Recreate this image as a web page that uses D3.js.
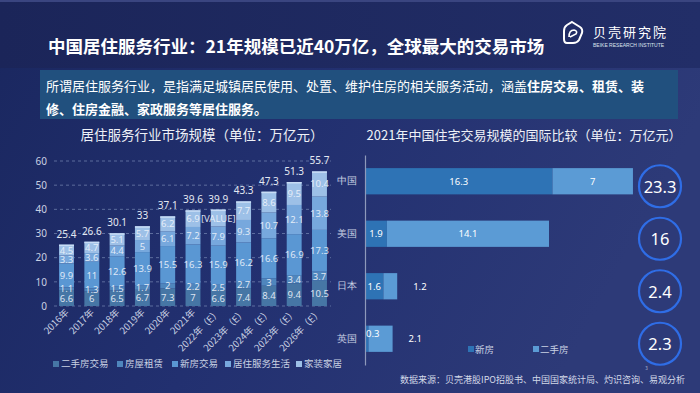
<!DOCTYPE html>
<html><head><meta charset="utf-8">
<script src="https://cdn.jsdelivr.net/npm/d3@7/dist/d3.min.js"></script>
<style>
html,body{margin:0;padding:0;background:#1b2660;}
svg{display:block;font-family:"Noto Sans CJK SC","Noto Sans",sans-serif;}
</style></head><body>
<svg id="c" width="700" height="393"></svg>
<script>
// ---------- DATA ----------
const years = ["2016年","2017年","2018年","2019年","2020年","2021年","2022年（E）","2023年（E）","2024年（E）","2025年（E）","2026年（E）"];
const seriesNames = ["二手房交易","房屋租赁","新房交易","居住服务生活","家装家居"];
const ershou   = [6.6, 6, 6.5, 6.7, 7.3, 7, 6.6, 7.4, 8.4, 9.4, 10.5];
const zulin    = [1.1, 1.3, 1.5, 1.7, 2, 2.2, 2.5, 2.7, 3, 3.4, 3.7];
const xinfang  = [9.9, 11, 12.6, 13.9, 15.5, 16.3, 15.9, 16.2, 16.6, 16.9, 17.3];
const shenghuo = [3.3, 3.6, 4.4, 5, 6.1, 7.2, 7.9, 9.3, 10.7, 12.1, 13.8];
const jiazhuang= [4.5, 4.7, 5.1, 5.7, 6.2, 6.9, 7.0, 7.7, 8.6, 9.5, 10.4];
const totals   = [25.4, 26.6, 30.1, 33, 37.1, 39.6, 39.9, 43.3, 47.3, 51.3, 55.7];
const placeholderLabels = [{year:"2022年（E）", series:"家装家居", text:"[VALUE]"}];
const yTicks = [0,10,20,30,40,50,60];

const countries = ["中国","美国","日本","英国"];
const cSeries = ["新房","二手房"];
const newHome = [16.3, 1.9, 1.6, 0.3];
const usedHome = [7, 14.1, 1.2, 2.1];
const countryTotals = [23.3, 16, 2.4, 2.3];

const title = "中国居住服务行业：21年规模已近40万亿，全球最大的交易市场";
const leftTitle = "居住服务行业市场规模（单位：万亿元）";
const rightTitle = "2021年中国住宅交易规模的国际比较（单位：万亿元）";
const source = "数据来源：贝壳港股IPO招股书、中国国家统计局、灼识咨询、易观分析";

// ---------- STYLE ----------
const stackColors = ["#4676a5","#4f86bd","#5a97d3","#77a8dd","#9dc0e7"];
const cColors = ["#2e73b5","#5b9bd5"];
const axisText = "#c9d1e3";

const svg = d3.select("#c");
const defs = svg.append("defs");
const bg = defs.append("linearGradient").attr("id","bg").attr("x1","0").attr("y1","0").attr("x2","1").attr("y2","0.3");
bg.append("stop").attr("offset","0").attr("stop-color","#1a275f");
bg.append("stop").attr("offset","0.5").attr("stop-color","#223070");
bg.append("stop").attr("offset","1").attr("stop-color","#2d3a78");
svg.append("rect").attr("width",700).attr("height",393).attr("fill","url(#bg)");
const hg = defs.append("linearGradient").attr("id","hg").attr("x1","0").attr("y1","0").attr("x2","1").attr("y2","0");
hg.append("stop").attr("offset","0").attr("stop-color","#1b2559");
hg.append("stop").attr("offset","1").attr("stop-color","#222e68");
svg.append("rect").attr("width",700).attr("height",68).attr("fill","url(#hg)");
svg.append("rect").attr("width",700).attr("height",2).attr("fill","#3a4580");

// header title
svg.append("text").attr("x",48).attr("y",45).attr("dominant-baseline","central")
  .attr("fill","#ffffff").attr("font-size",17.5).attr("font-weight","bold").text(title);

// logo
const logo = svg.append("g").attr("transform","translate(563,21)");
logo.append("path").attr("d","M9,1 L17,6 Q20,8 19,12 L16,19 Q14,22 10,22 L4,22 Q1,22 1,18 L1,10 Q1,6 4,4 Z")
  .attr("fill","none").attr("stroke","#fff").attr("stroke-width",2);
logo.append("path").attr("d","M6,16 Q6,9 11,9 Q15,10 13,13 L7,16")
  .attr("fill","none").attr("stroke","#fff").attr("stroke-width",1.6);
svg.append("text").attr("x",593).attr("y",31).attr("dominant-baseline","central")
  .attr("fill","#fff").attr("font-size",13).attr("letter-spacing",2).text("贝壳研究院");
svg.append("text").attr("x",593).attr("y",44.5).attr("dominant-baseline","central")
  .attr("fill","#dfe4ee").attr("font-size",5).attr("font-family","Liberation Sans, Arial").text("BEIKE RESEARCH INSTITUTE");

// description box
svg.append("rect").attr("x",40).attr("y",70).attr("width",638).attr("height",49).attr("fill","#21507e");
const d1 = svg.append("text").attr("x",46).attr("y",85).attr("dominant-baseline","central").attr("fill","#fff").attr("font-size",13);
d1.append("tspan").text("所谓居住服务行业，是指满足城镇居民使用、处置、维护住房的相关服务活动，涵盖");
d1.append("tspan").attr("font-weight","bold").text("住房交易、租赁、装");
svg.append("text").attr("x",46).attr("y",108).attr("dominant-baseline","central").attr("fill","#fff")
  .attr("font-size",13).attr("font-weight","bold").text("修、住房金融、家政服务等居住服务。");

// ---------- LEFT CHART ----------
svg.append("text").attr("x",202).attr("y",134).attr("text-anchor","middle").attr("dominant-baseline","central")
  .attr("fill","#eef1f7").attr("font-size",13.5).text(leftTitle);

const x = d3.scaleBand().domain(years).range([54,332]).paddingInner(0.41).paddingOuter(0.2);
const y = d3.scaleLinear().domain([0,60]).range([306,161]);

const gridG = svg.append("g");
gridG.selectAll("line").data(yTicks).join("line")
  .attr("x1",54).attr("x2",331).attr("y1",d=>y(d)).attr("y2",d=>y(d))
  .attr("stroke","#8fa3c8").attr("stroke-opacity",0.55).attr("stroke-dasharray","3,3").attr("stroke-width",1);

const yAxis = svg.append("g").attr("transform","translate(54,0)")
  .call(d3.axisLeft(y).tickValues(yTicks).tickSize(0).tickPadding(7));
yAxis.select(".domain").remove();
yAxis.selectAll("text").attr("fill",axisText).attr("font-size",10).attr("font-family","Noto Sans, sans-serif");

const rows = years.map((yr,i)=>({year:yr, "二手房交易":ershou[i], "房屋租赁":zulin[i], "新房交易":xinfang[i], "居住服务生活":shenghuo[i], "家装家居":jiazhuang[i], total:totals[i]}));
const stacked = d3.stack().keys(seriesNames)(rows);

const layers = svg.append("g").selectAll("g").data(stacked).join("g").attr("fill",(d,i)=>stackColors[i]);
layers.selectAll("rect").data(d=>d.map(p=>({p, year:p.data.year}))).join("rect")
  .attr("x",d=>x(d.year)).attr("width",x.bandwidth())
  .attr("y",d=>y(d.p[1])).attr("height",d=>y(d.p[0])-y(d.p[1]));

// bar top highlight
svg.append("g").selectAll("rect").data(rows).join("rect")
  .attr("x",d=>x(d.year)).attr("width",x.bandwidth()).attr("y",d=>y(d.total)).attr("height",1.5)
  .attr("fill","#c8dcf5");

// segment labels
const labG = svg.append("g").attr("font-size",9.5).attr("text-anchor","middle").attr("fill","#eef3fb").attr("fill-opacity",0.9);
stacked.forEach((layer)=>{
  layer.forEach(p=>{
    const yr = p.data.year;
    const ph = placeholderLabels.find(o=>o.year===yr && o.series===layer.key);
    labG.append("text").attr("x",x(yr)+x.bandwidth()/2).attr("y",(y(p[0])+y(p[1]))/2)
      .attr("dominant-baseline","central").attr("font-family","Noto Sans, sans-serif")
      .text(ph ? ph.text : String(+(p.data[layer.key])));
  });
});
// totals
svg.append("g").selectAll("text").data(rows).join("text")
  .attr("x",d=>x(d.year)+x.bandwidth()/2).attr("y",d=>y(d.total)-7)
  .attr("text-anchor","middle").attr("fill","#e3e8f2").attr("font-size",10).attr("font-family","Noto Sans, sans-serif")
  .text(d=>d.total);

// x labels
svg.append("g").selectAll("text").data(years).join("text")
  .attr("transform",d=>`translate(${x(d)+x.bandwidth()/2+3},${313}) rotate(-45)`)
  .attr("text-anchor","end").attr("fill",axisText).attr("font-size",9.5).text(d=>d);

// left legend
const legX = [53,117,172,225,296];
const lg = svg.append("g");
seriesNames.forEach((s,i)=>{
  lg.append("rect").attr("x",legX[i]).attr("y",361).attr("width",6).attr("height",6).attr("fill",stackColors[i]);
  lg.append("text").attr("x",legX[i]+8).attr("y",363).attr("dominant-baseline","central")
    .attr("fill",axisText).attr("font-size",9.5).text(s);
});

// ---------- RIGHT CHART ----------
svg.append("text").attr("x",524).attr("y",134).attr("text-anchor","middle").attr("dominant-baseline","central")
  .attr("fill","#eef1f7").attr("font-size",13).text(rightTitle);

const xr = d3.scaleLinear().domain([0,24]).range([365,641]);
const yr = d3.scaleBand().domain(countries).range([155,365]).paddingInner(0.5).paddingOuter(0.25);

const cRows = countries.map((c,i)=>({country:c, "新房":newHome[i], "二手房":usedHome[i], total:countryTotals[i]}));
const cStack = d3.stack().keys(cSeries)(cRows);
const cl = svg.append("g").selectAll("g").data(cStack).join("g").attr("fill",(d,i)=>cColors[i]);
cl.selectAll("rect").data(d=>d).join("rect")
  .attr("x",d=>xr(d[0])).attr("width",d=>xr(d[1])-xr(d[0]))
  .attr("y",d=>yr(d.data.country)).attr("height",yr.bandwidth());

const cLab = svg.append("g").attr("font-size",9.5).attr("fill","#ffffff").attr("font-family","Noto Sans, sans-serif");
cStack.forEach((layer,li)=>{
  layer.forEach(p=>{
    const w = xr(p[1])-xr(p[0]);
    const cy = yr(p.data.country)+yr.bandwidth()/2;
    const v = p.data[layer.key];
    if (li===0) {
      if (w >= 14) cLab.append("text").attr("x",(xr(p[0])+xr(p[1]))/2).attr("y",cy).attr("text-anchor","middle").attr("dominant-baseline","central").text(v);
      else cLab.append("text").attr("x",xr(p[0])+1).attr("y",cy-5).attr("dominant-baseline","central").text(v);
    } else {
      if (w >= 30) cLab.append("text").attr("x",(xr(p[0])+xr(p[1]))/2).attr("y",cy).attr("text-anchor","middle").attr("dominant-baseline","central").text(v);
      else cLab.append("text").attr("x",xr(p[1])+16).attr("y",cy).attr("dominant-baseline","central").text(v);
    }
  });
});

// axis line + category labels
const ya = svg.append("g").attr("transform","translate(365,0)").call(d3.axisLeft(yr).tickSize(0).tickPadding(8));
ya.select(".domain").attr("stroke","#8e99bb").attr("stroke-width",1.2);
ya.selectAll("text").attr("fill",axisText).attr("font-size",9.5);

// circles
const circ = svg.append("g").selectAll("g").data(cRows).join("g")
  .attr("transform",d=>`translate(660,${yr(d.country)+yr.bandwidth()/2+5})`);
circ.append("circle").attr("r",21).attr("fill","none").attr("stroke","#2f6de6").attr("stroke-width",2.2);
circ.append("text").attr("text-anchor","middle").attr("dominant-baseline","central")
  .attr("fill","#fff").attr("font-size",16.5).attr("font-family","Noto Sans, sans-serif").text(d=>d.total);

// right legend
const rlX = [468,533];
cSeries.forEach((s,i)=>{
  svg.append("rect").attr("x",rlX[i]).attr("y",346).attr("width",6).attr("height",6).attr("fill",cColors[i]);
  svg.append("text").attr("x",rlX[i]+7).attr("y",349).attr("dominant-baseline","central")
    .attr("fill",axisText).attr("font-size",9.5).text(s);
});

// source + page
svg.append("text").attr("x",400).attr("y",379).attr("dominant-baseline","central")
  .attr("fill","#d3d9e8").attr("font-size",9).text(source);
svg.append("text").attr("x",645).attr("y",370).attr("fill","#aab3cc").attr("font-size",5).text("3");
</script>
</body></html>
